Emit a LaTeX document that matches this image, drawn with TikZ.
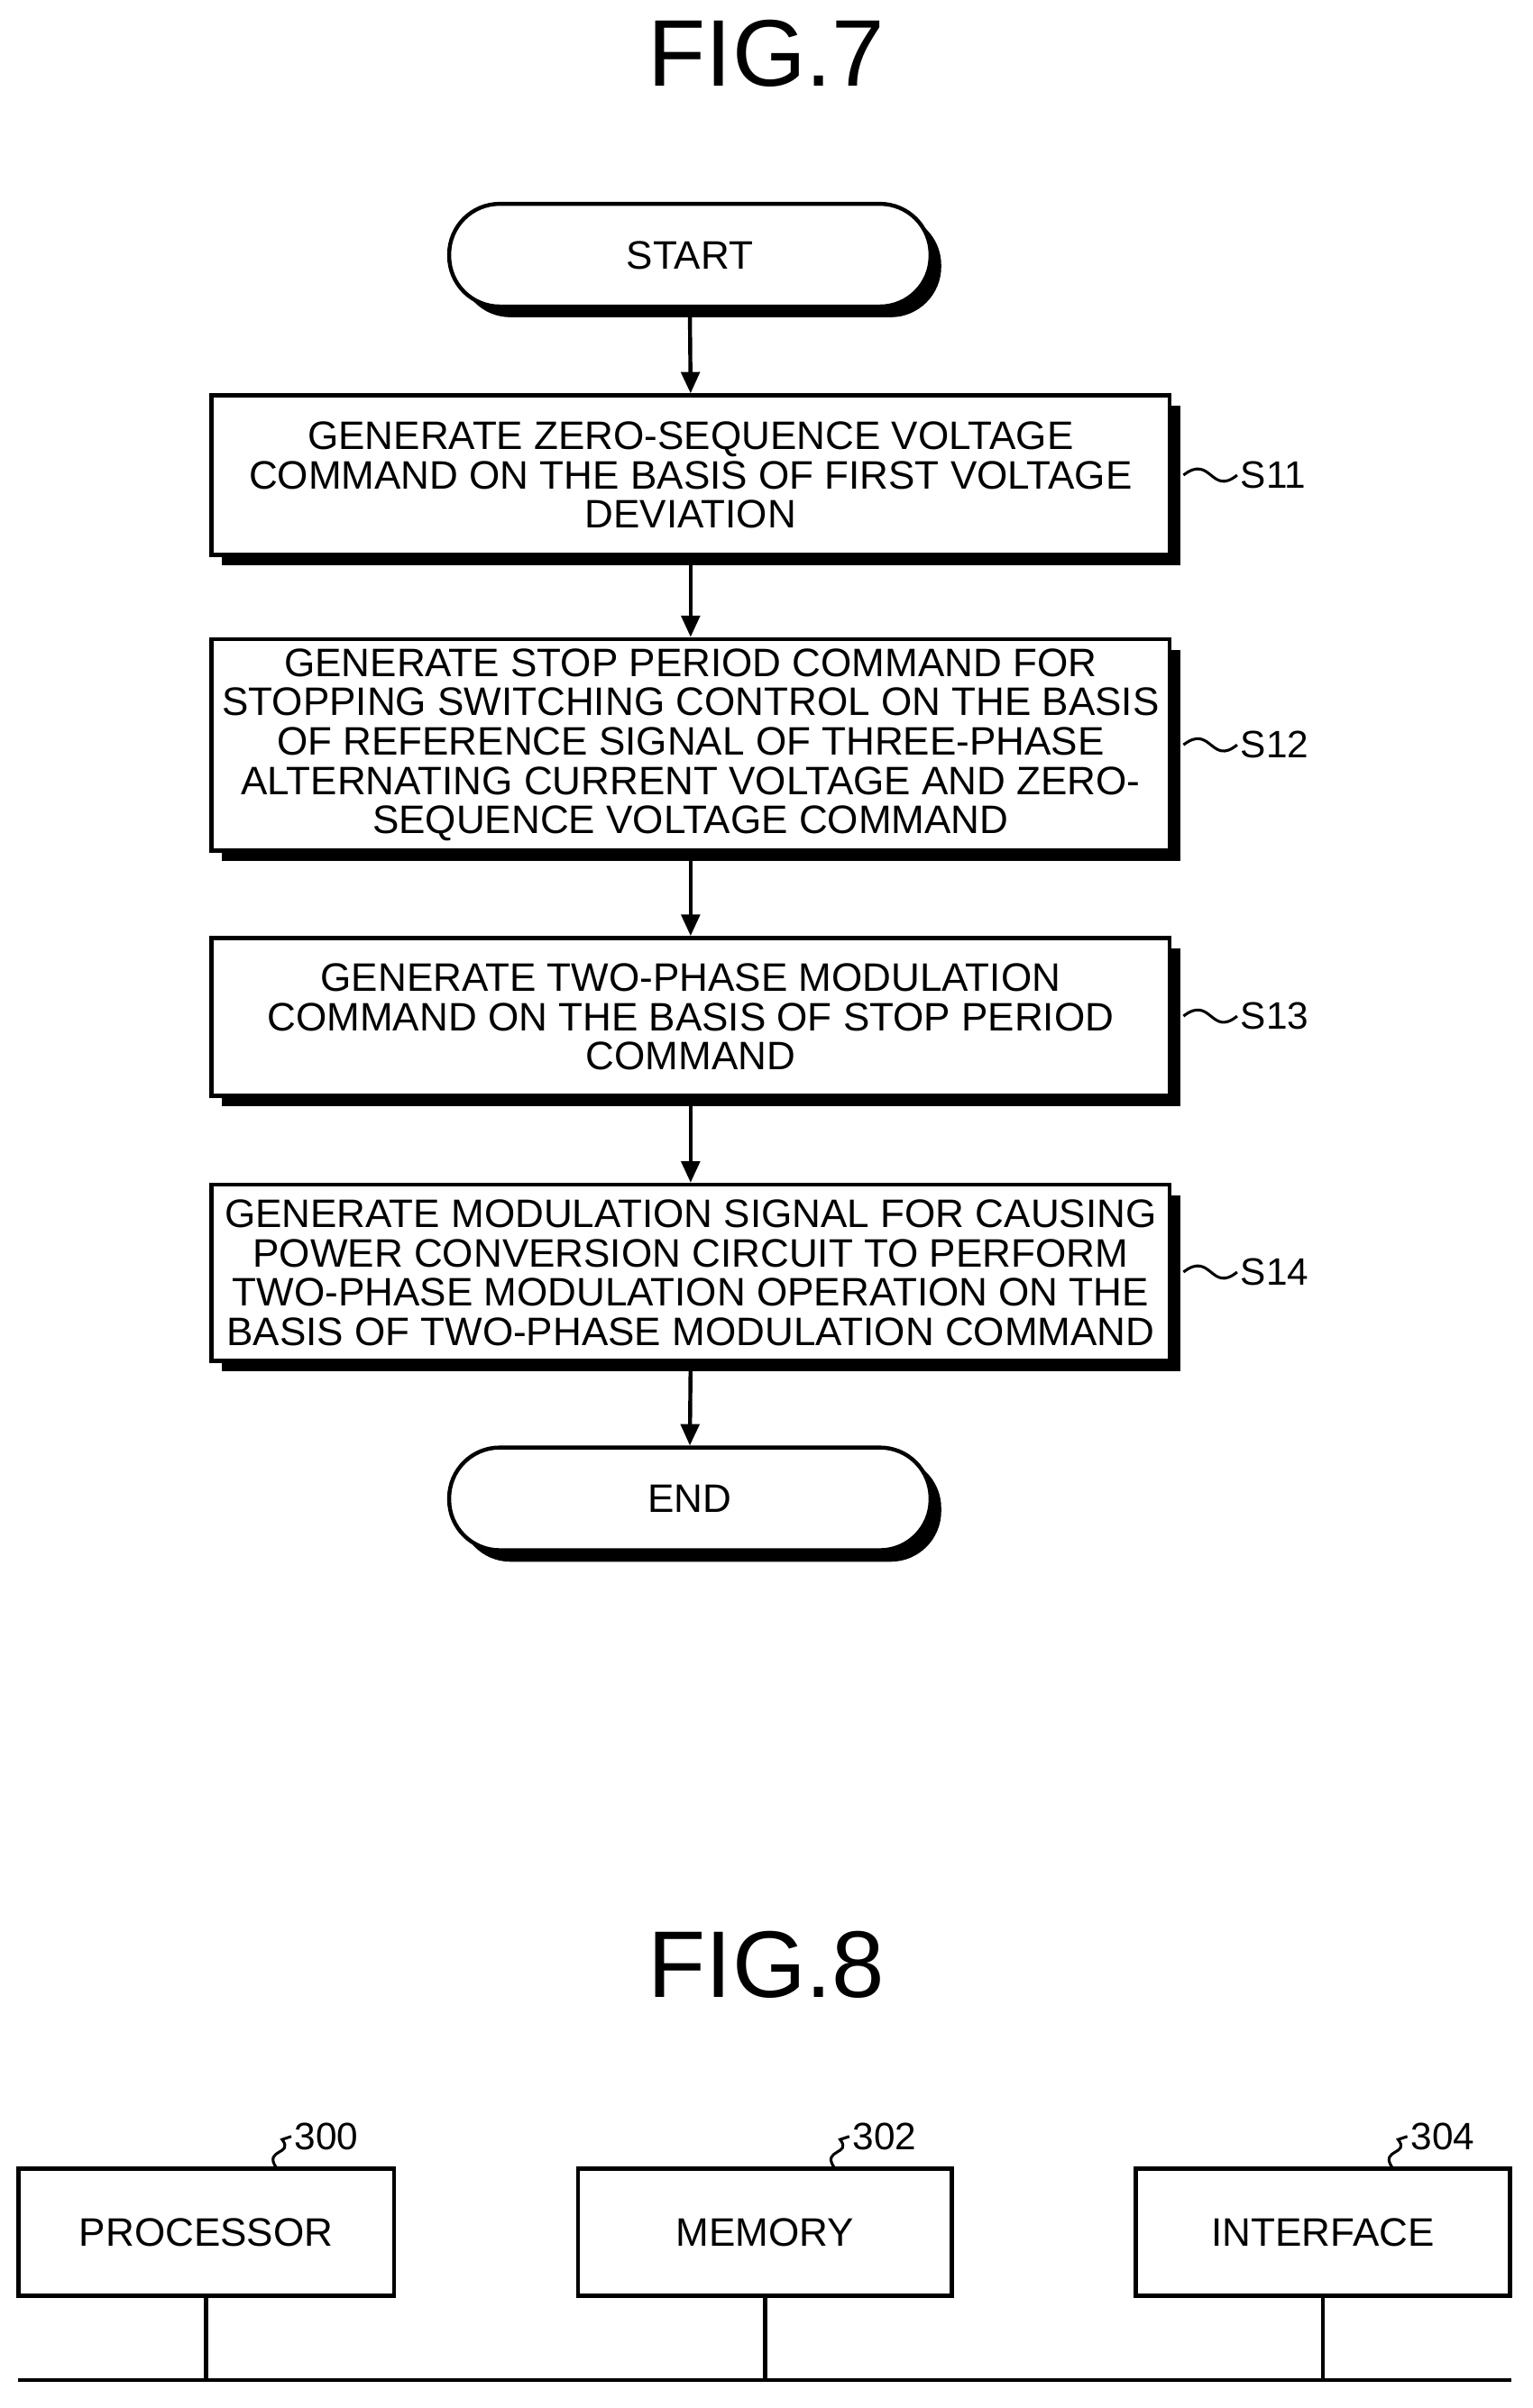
\documentclass[tikz,border=0pt]{standalone}
\usepackage{fontspec}
\setmainfont{Liberation Sans}
\usetikzlibrary{arrows.meta}
\begin{document}
\begin{tikzpicture}[x=1bp,y=-1bp,line width=2.6bp,
  txt/.style={font=\fontsize{26}{25.8}\selectfont,align=center},
  box/.style={draw,fill=white,minimum width=625bp,inner sep=0},
  term/.style={draw,fill=white,rounded corners=33bp,minimum width=314bp,minimum height=67bp,inner sep=0},
  arr/.style={-{Triangle[length=14bp,width=12bp]}},
  sq/.style={line width=1.8bp},
  lab/.style={font=\fontsize{25}{25}\selectfont,anchor=west,inner sep=1bp},
  big/.style={font=\fontsize{62}{62}\selectfont}]
\useasboundingbox (0,0) rectangle (1000,1571.2);
\node[big] (f7) at (500,35) {FIG.7};
% shadows
\fill (300,140) [rounded corners=33bp] rectangle (614,207);
\fill (145,265) rectangle (770,369);
\fill (145,424) rectangle (770,562);
\fill (145,619) rectangle (770,722);
\fill (145,780) rectangle (770,895);
\fill (300,951) [rounded corners=33bp] rectangle (614,1019);
\node[term,txt] (start) at (450,166.5) {START};
\node[box,minimum height=104bp,txt] (s11) at (450.5,310) {GENERATE ZERO-SEQUENCE VOLTAGE\\COMMAND ON THE BASIS OF FIRST VOLTAGE\\DEVIATION};
\node[box,minimum height=138bp,txt] (s12) at (450.5,486) {GENERATE STOP PERIOD COMMAND FOR\\STOPPING SWITCHING CONTROL ON THE BASIS\\OF REFERENCE SIGNAL OF THREE-PHASE\\ALTERNATING CURRENT VOLTAGE AND ZERO-\\SEQUENCE VOLTAGE COMMAND};
\node[box,minimum height=103bp,txt] (s13) at (450.5,663.5) {GENERATE TWO-PHASE MODULATION\\COMMAND ON THE BASIS OF STOP PERIOD\\COMMAND};
\node[box,minimum height=115bp,txt] (s14) at (450.5,830.5) {GENERATE MODULATION SIGNAL FOR CAUSING\\POWER CONVERSION CIRCUIT TO PERFORM\\TWO-PHASE MODULATION OPERATION ON THE\\BASIS OF TWO-PHASE MODULATION COMMAND};
\node[term,txt] (end) at (450,978) {END};
\draw[arr] (start.south) -- (s11.north);
\draw[arr] (s11.south) -- (s12.north);
\draw[arr] (s12.south) -- (s13.north);
\draw[arr] (s13.south) -- (s14.north);
\draw[arr] (s14.south) -- (end.north);
\foreach \n/\y/\t in {a/310/S11,b/486/S12,c/663/S13,d/830/S14}{
  \coordinate (p\n) at (772,\y);
  \node[lab] (l\n) at (807,\y) {\t};
  \draw[sq] (p\n) .. controls (790,\y-14) and (790,\y+14) .. (l\n.west);
}
\node[big] (f8) at (500,1282) {FIG.8};
\node[draw,txt,minimum width=245bp,minimum height=83bp] (p300) at (134.5,1456.5) {PROCESSOR};
\node[draw,txt,minimum width=244bp,minimum height=83bp] (p302) at (499,1456.5) {MEMORY};
\node[draw,txt,minimum width=244bp,minimum height=83bp] (p304) at (863,1456.5) {INTERFACE};
\foreach \n/\x in {300/180,302/544,304/908}{
  \coordinate (q\n) at (\x,1414);
  \node[lab] (m\n) at (\x+10,1394) {\n};
  \draw[sq] (q\n) .. controls (\x-8,1402) and (\x+12,1406) .. (\x+4,1396) -- (m\n.west);
}
\coordinate (b0) at (12,1553);
\coordinate (b1) at (986,1553);
\draw (b0) -- (b1);
\draw (p300.south) -- (p300.south |- b0);
\draw (p302.south) -- (p302.south |- b0);
\draw (p304.south) -- (p304.south |- b0);
\end{tikzpicture}
\end{document}
